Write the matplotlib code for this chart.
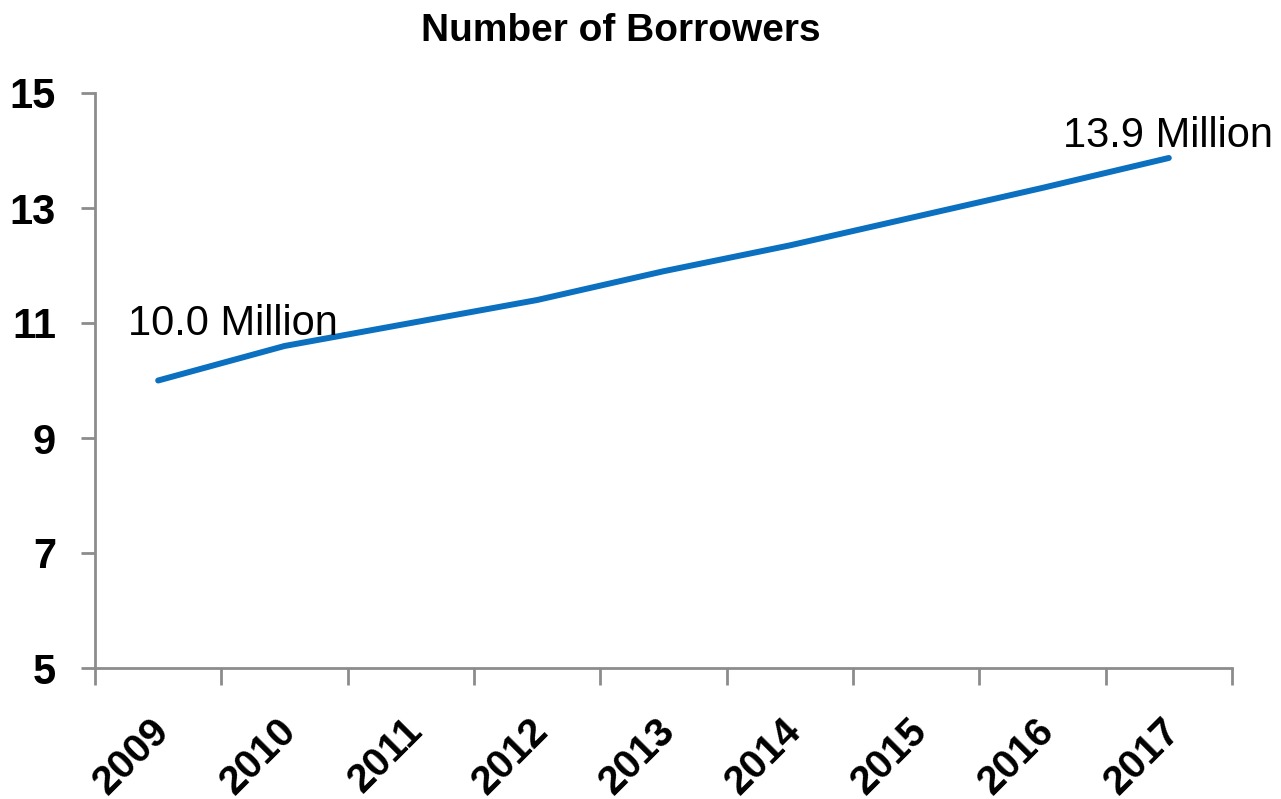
import numpy as np
import matplotlib
matplotlib.use("Agg")
import matplotlib.pyplot as plt
import matplotlib.transforms as mtransforms

# data (millions of borrowers)
years = ["2009", "2010", "2011", "2012", "2013", "2014", "2015", "2016", "2017"]
borrowers = [10.0, 10.6, 11.0, 11.4, 11.9, 12.35, 12.85, 13.35, 13.87]
first_label = "10.0 Million"
last_label = "13.9 Million"
y_ticks = [5, 7, 9, 11, 13, 15]

plt.rcParams["font.family"] = ["Liberation Sans", "DejaVu Sans"]

GREY = "#8c8c8c"
BLUE = "#0a70bf"

fig = plt.figure(figsize=(12.81, 7.99), dpi=100)
ax = fig.add_axes([95/1281, 1 - 668/799, (1232 - 95)/1281, (668 - 93)/799])

x = np.arange(len(years))
ax.plot(x, borrowers, color=BLUE, lw=4.3, solid_capstyle="round")

ax.set_xlim(-0.5, len(years) - 0.5)
ax.set_ylim(y_ticks[0], y_ticks[-1])

# category boundaries carry the tick marks, centres carry the labels
ax.set_xticks(np.arange(len(years) + 1) - 0.5)
ax.set_xticklabels([])
ax.set_xticks(x, minor=True)
ax.set_xticklabels(years, minor=True, rotation=45, ha="right",
                   rotation_mode="anchor", fontsize=29, fontweight="bold")
ax.tick_params(axis="x", which="major", length=12, width=2, color=GREY, direction="out")
ax.tick_params(axis="x", which="minor", length=0, pad=31)
shift = mtransforms.ScaledTranslation(-8/100, 0, fig.dpi_scale_trans)
for lab in ax.get_xticklabels(minor=True):
    lab.set_transform(lab.get_transform() + shift)

ax.set_yticks(y_ticks)
ax.set_yticklabels([str(v) for v in y_ticks], fontsize=30, fontweight="bold")
ax.tick_params(axis="y", length=10, width=2, color=GREY, pad=18, direction="out")

for side in ["top", "right"]:
    ax.spines[side].set_visible(False)
for side in ["left", "bottom"]:
    ax.spines[side].set_color(GREY)
    ax.spines[side].set_linewidth(2)

ax.annotate(first_label, (x[0], borrowers[0]), xytext=(-22, 33),
            textcoords="offset points", ha="left", va="baseline",
            fontsize=30, annotation_clip=False)
ax.annotate(last_label, (x[-1], borrowers[-1]), xytext=(75, 8),
            textcoords="offset points", ha="right", va="baseline",
            fontsize=30, annotation_clip=False)

fig.text(621/1281, 1 - 31/799, "Number of Borrowers", ha="center", va="center",
         fontsize=28, fontweight="bold")

fig.savefig("out.png", dpi=100, facecolor="white")
